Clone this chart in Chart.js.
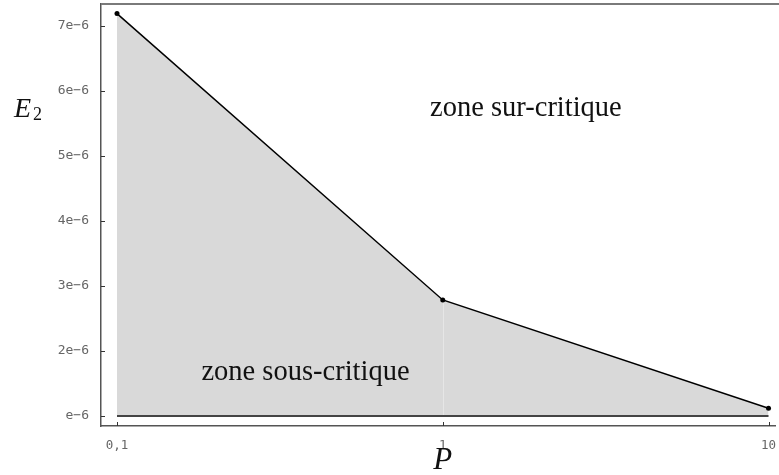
<!DOCTYPE html>
<html lang="fr">
<head>
<meta charset="UTF-8">
<title>E2 vs P</title>
<script src="https://cdn.jsdelivr.net/npm/chart.js@4.4.1/dist/chart.umd.min.js"></script>
<style>
    html, body { margin: 0; padding: 0; background: white; }
    #wrap { width: 779px; height: 475px; }
</style>
</head>
<body>
<div id="wrap"><canvas id="chart" width="779" height="475"></canvas></div>
<script>
    // data
    const pValues = [0.1, 1, 10]
    const e2Values = [7.19e-6, 2.785e-6, 1.12e-6]
    const baseline = 1e-6

    const xTickValues = [0.1, 1, 10]
    const xTickLabels = ['0,1', '1', '10']
    const yTickValues = [1e-6, 2e-6, 3e-6, 4e-6, 5e-6, 6e-6, 7e-6]
    const yTickLabels = ['e−6', '2e−6', '3e−6', '4e−6', '5e−6', '6e−6', '7e−6']

    const zoneLabels = [
        { text: 'zone sur-critique', x: 1.8, y: 5.615e-6 },
        { text: 'zone sous-critique', x: 0.379, y: 1.554e-6 }
    ]

    const axisGray = '#555'

    const decorations = {
        id: 'decorations',
        afterDatasetsDraw(chart) {
            // faint seam in the fill at P = 1
            const ctx = chart.ctx
            const xs = chart.scales.x
            const ys = chart.scales.y
            const i = pValues.indexOf(1)
            const px = Math.round(xs.getPixelForValue(pValues[i])) + 0.5
            ctx.save()
            ctx.strokeStyle = '#e6e6e6'
            ctx.lineWidth = 1
            ctx.beginPath()
            ctx.moveTo(px, ys.getPixelForValue(e2Values[i]) + 3)
            ctx.lineTo(px, ys.getPixelForValue(baseline) - 1)
            ctx.stroke()
            ctx.restore()
        },
        afterDraw(chart) {
            const ctx = chart.ctx
            const area = chart.chartArea
            const xs = chart.scales.x
            const ys = chart.scales.y
            ctx.save()

            // top frame line
            ctx.strokeStyle = '#7a7a7a'
            ctx.lineWidth = 2
            ctx.beginPath()
            ctx.moveTo(area.left, area.top)
            ctx.lineTo(chart.width, area.top)
            ctx.stroke()

            // inward tick marks
            ctx.strokeStyle = '#333'
            ctx.lineWidth = 1
            yTickValues.forEach(v => {
                const py = Math.round(ys.getPixelForValue(v)) + 0.5
                ctx.beginPath()
                ctx.moveTo(area.left, py)
                ctx.lineTo(area.left + 4, py)
                ctx.stroke()
            })
            xTickValues.forEach(v => {
                const px = Math.round(xs.getPixelForValue(v)) + 0.5
                ctx.beginPath()
                ctx.moveTo(px, area.bottom)
                ctx.lineTo(px, area.bottom - 4)
                ctx.stroke()
            })

            // zone annotations
            ctx.fillStyle = '#111'
            ctx.font = '28.5px "Liberation Serif"'
            ctx.textAlign = 'center'
            ctx.textBaseline = 'alphabetic'
            zoneLabels.forEach(z => {
                ctx.fillText(z.text, xs.getPixelForValue(z.x), ys.getPixelForValue(z.y))
            })

            // axis titles
            ctx.font = 'italic 31px "Liberation Serif"'
            ctx.textAlign = 'center'
            ctx.fillText('P', xs.getPixelForValue(1), 469)
            ctx.textAlign = 'left'
            ctx.font = 'italic 28px "Liberation Serif"'
            ctx.fillText('E', 14, 117)
            ctx.font = '18px "Liberation Serif"'
            ctx.fillText('2', 33, 120)

            ctx.restore()
        }
    }

    new Chart(document.getElementById('chart'), {
        type: 'line',
        data: {
            datasets: [{
                label: 'E2',
                data: pValues.map((p, i) => ({ x: p, y: e2Values[i] })),
                borderColor: '#000',
                borderWidth: 1.5,
                backgroundColor: '#d9d9d9',
                fill: { value: baseline },
                pointRadius: 2.5,
                pointBackgroundColor: '#000',
                pointBorderWidth: 0,
                tension: 0,
                order: 1
            }, {
                label: 'baseline',
                data: [{ x: pValues[0], y: baseline }, { x: pValues[pValues.length - 1], y: baseline }],
                borderColor: '#444',
                borderWidth: 2,
                pointRadius: 0,
                fill: false,
                order: 0
            }]
        },
        options: {
            responsive: false,
            animation: false,
            devicePixelRatio: 1,
            layout: { padding: { top: 4, right: 0, left: 0, bottom: 0 } },
            plugins: {
                legend: { display: false },
                tooltip: { enabled: false }
            },
            scales: {
                x: {
                    type: 'logarithmic',
                    min: 0.0893,
                    max: 10.47,
                    afterFit(scale) {
                        scale.height = 49
                        scale.paddingLeft = 0
                        scale.paddingRight = 0
                    },
                    afterBuildTicks(scale) { scale.ticks = xTickValues.map(v => ({ value: v })) },
                    grid: { display: false, drawTicks: false },
                    border: { display: true, color: axisGray, width: 1.5 },
                    ticks: {
                        autoSkip: false,
                        maxRotation: 0,
                        padding: 12,
                        color: '#666',
                        font: { family: 'DejaVu Sans Mono', size: 12.5 },
                        callback: (v, i) => xTickLabels[i]
                    }
                },
                y: {
                    type: 'linear',
                    min: 0.846e-6,
                    max: 7.338e-6,
                    afterFit(scale) {
                        scale.width = 101
                        scale.paddingTop = 0
                        scale.paddingBottom = 0
                    },
                    afterBuildTicks(scale) { scale.ticks = yTickValues.map(v => ({ value: v })) },
                    grid: { display: false, drawTicks: false },
                    border: { display: true, color: axisGray, width: 1.5 },
                    ticks: {
                        autoSkip: false,
                        padding: 12,
                        color: '#666',
                        font: { family: 'DejaVu Sans Mono', size: 13 },
                        callback: (v, i) => yTickLabels[i]
                    }
                }
            }
        },
        plugins: [decorations]
    })
</script>
</body>
</html>
